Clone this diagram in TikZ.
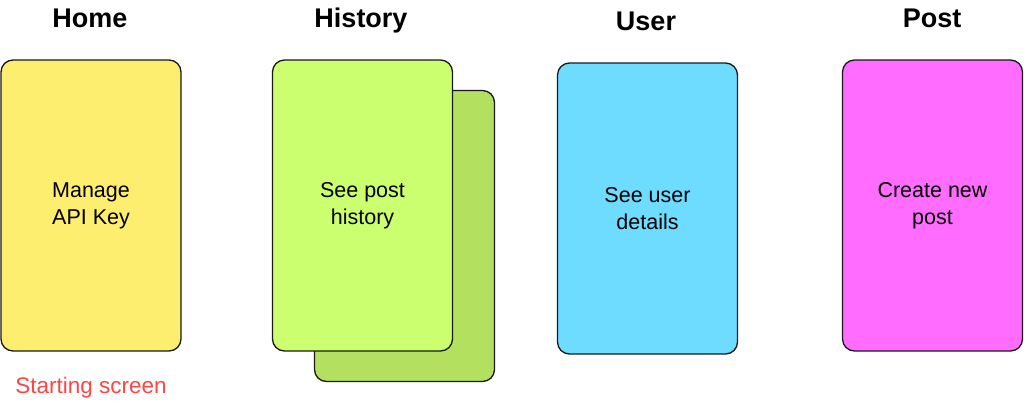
\documentclass[tikz,border=0pt]{standalone}
\usepackage{fontspec}
\setmainfont{Liberation Sans}
\definecolor{cyellow}{HTML}{FEEE70}
\definecolor{cgreen}{HTML}{CBFF6F}
\definecolor{cgreenback}{HTML}{B3E05E}
\definecolor{cblue}{HTML}{6EDCFF}
\definecolor{cpink}{HTML}{FF6CFF}
\definecolor{cred}{HTML}{FF4444}
\tikzset{
  card/.style={draw=black!90, line width=1.3pt, rounded corners=12pt, minimum width=180pt, minimum height=291pt, inner sep=0pt, align=center, font=\fontsize{21.5}{27}\selectfont},
  title/.style={font=\fontsize{27}{30}\selectfont\bfseries, inner sep=0pt, anchor=base},
}
\begin{document}
\begin{tikzpicture}[x=1pt,y=-1pt]
\useasboundingbox (0,0) rectangle (1024,402);
\node[title] (thome) at (90,27) {Home};
\node[title] (thist) at (361,27) {History};
\node[title] (tuser) at (646,30) {User};
\node[title] (tpost) at (932,27) {Post};
\node[card, fill=cgreenback] (histback) at (404.5,236) {};
\node[card, fill=cyellow] (home) at (91,205.5) {Manage\\API Key};
\node[card, fill=cgreen] (hist) at (362.5,205.5) {See post\\history};
\node[card, fill=cblue] (user) at (647.5,208.5) {See user\\details};
\node[card, fill=cpink] (post) at (932.5,205.5) {Create new\\post};
\node[text=cred, font=\fontsize{22.5}{27}\selectfont, inner sep=0pt] (start) at (91,388) {Starting screen};
\end{tikzpicture}
\end{document}
